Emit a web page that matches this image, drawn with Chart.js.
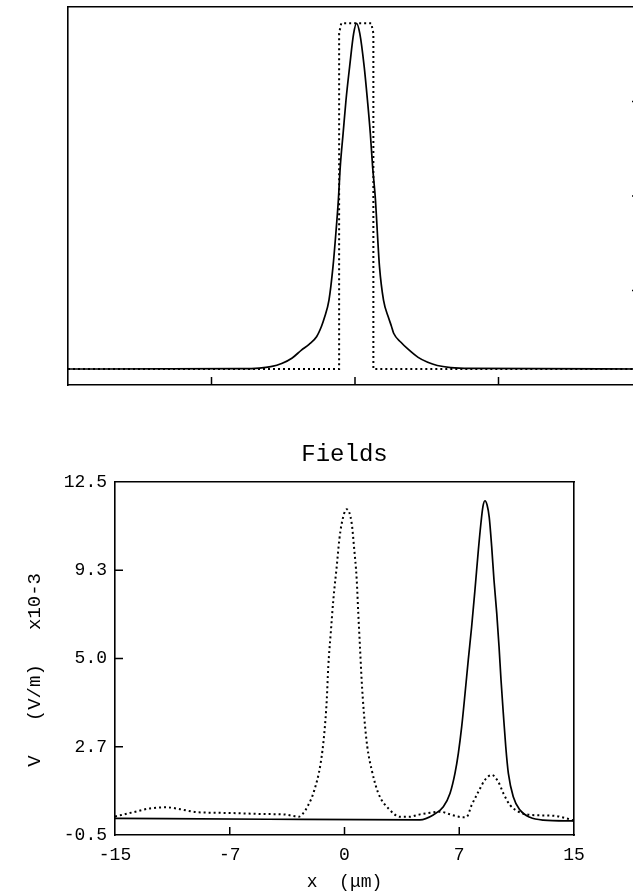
<!DOCTYPE html>
<html>
<head>
<meta charset="utf-8">
<script src="https://cdn.jsdelivr.net/npm/chart.js@4.4.1/dist/chart.umd.min.js"></script>
<style>
  html, body { margin: 0; padding: 0; background: #fff; width: 633px; height: 894px; overflow: hidden; }
  #topWrap { position: absolute; left: 0; top: 0; width: 700px; height: 400px; }
  #botWrap { position: absolute; left: 0; top: 440px; width: 633px; height: 454px; }
</style>
</head>
<body>
<div id="topWrap"><canvas id="topChart" width="700" height="400"></canvas></div>
<div id="botWrap"><canvas id="botChart" width="633" height="454"></canvas></div>
<script>
// ---------- data ----------
const xTickLabels = ["-15", "-7", "0", "7", "15"];
const yTickLabels = ["-0.5", "2.7", "5.0", "9.3", "12.5"];
const chartTitle = "Fields";
const xAxisTitle = "x  (\u03bcm)";
const yAxisTitle = "V   (V/m)   x10-3  ";

// top panel: solid profile and dotted (rectangular) profile
const topSolidX = [-15, -6, -5, -4.4, -3.8, -3.3, -2.8, -2.4, -2.0, -1.75, -1.6, -1.36, -1.15, -1.0, -0.87, -0.77, -0.62, -0.47, -0.28, -0.07, 0.08, 0.25, 0.48, 0.65, 0.8, 0.92, 1.07, 1.17, 1.28, 1.49, 1.75, 1.9, 2.02, 2.4, 2.76, 3.3, 3.8, 4.3, 5, 6, 15];
const topSolidY = [0.05, 0.06, 0.08, 0.13, 0.25, 0.42, 0.70, 0.90, 1.17, 1.52, 1.81, 2.42, 3.57, 4.72, 5.86, 7.01, 8.16, 9.30, 10.45, 11.59, 11.94, 11.59, 10.45, 9.30, 8.16, 7.01, 5.86, 4.72, 3.57, 2.42, 1.82, 1.53, 1.28, 0.97, 0.74, 0.45, 0.28, 0.17, 0.10, 0.07, 0.05];
const topDotX = [-15, -0.83, -0.83, -0.72, 0.85, 0.96, 0.96, 15];
const topDotY = [0.05, 0.05, 11.6, 11.94, 11.94, 11.6, 0.05, 0.05];

// bottom panel "Fields"
const botSolidX = [-15, -5, 4.93, 5.8, 6.46, 6.9, 7.22, 7.44, 7.66, 7.88, 8.09, 8.31, 8.53, 8.75, 8.92, 9.05, 9.18, 9.32, 9.46, 9.62, 9.77, 9.95, 10.1, 10.23, 10.38, 10.54, 10.71, 11.03, 11.47, 12.12, 12.99, 15];
const botSolidY = [0.11, 0.08, 0.06, 0.24, 0.54, 1.04, 1.77, 2.51, 3.49, 4.72, 5.95, 7.17, 8.55, 10.0, 11.0, 11.6, 11.81, 11.65, 11.2, 10.12, 8.89, 7.67, 6.44, 5.21, 3.98, 2.75, 1.77, 0.91, 0.42, 0.15, 0.05, 0.02];
const botDotX = [-15, -13.8, -12.71, -11.62, -10.75, -9.66, -8.35, -6.83, -5.08, -4.0, -3.35, -3.0, -2.7, -2.37, -2.0, -1.56, -1.32, -1.16, -1.06, -0.90, -0.73, -0.51, -0.34, -0.18, 0.14, 0.47, 0.62, 0.80, 0.90, 1.01, 1.12, 1.27, 1.49, 1.78, 2.21, 2.97, 3.63, 4.2, 4.93, 5.59, 6.24, 6.9, 7.4, 7.77, 7.99, 8.31, 8.75, 9.18, 9.62, 10.05, 10.38, 10.82, 11.36, 12.12, 13.65, 14.52, 14.96];
const botDotY = [0.18, 0.34, 0.48, 0.52, 0.45, 0.34, 0.32, 0.30, 0.27, 0.26, 0.20, 0.17, 0.30, 0.60, 1.10, 2.14, 3.25, 4.47, 5.70, 6.93, 8.16, 9.38, 10.37, 10.98, 11.5, 10.98, 10.12, 8.89, 7.67, 6.44, 5.21, 3.98, 2.75, 1.89, 1.04, 0.42, 0.17, 0.17, 0.26, 0.32, 0.36, 0.26, 0.18, 0.15, 0.17, 0.60, 1.09, 1.53, 1.71, 1.46, 1.04, 0.60, 0.36, 0.24, 0.21, 0.11, 0.03];

const X_MIN = -15, X_MAX = 15, X_STEP = 7.5;
const Y_MIN = -0.5, Y_MAX = 12.5, Y_STEP = 3.25;

// ---------- helpers ----------
const pts = (xs, ys) => xs.map((x, i) => ({ x: x, y: ys[i] }));
const FONT = "'Liberation Mono', 'DejaVu Sans Mono', monospace";
const INK = '#000';

const inwardTicks = {
  id: 'inwardTicks',
  afterDraw(chart, args, opts) {
    const { ctx, chartArea: a, scales } = chart;
    const len = opts.length || 8;
    const rlen = opts.rightLength || len;
    ctx.save();
    ctx.strokeStyle = INK;
    ctx.lineWidth = 1.5;
    ctx.beginPath();
    if (opts.bottom) {
      scales.x.ticks.slice(1, -1).forEach(t => {
        const px = scales.x.getPixelForValue(t.value);
        ctx.moveTo(px, a.bottom); ctx.lineTo(px, a.bottom - len);
      });
    }
    if (opts.left) {
      scales.y.ticks.slice(1, -1).forEach(t => {
        const py = scales.y.getPixelForValue(t.value);
        ctx.moveTo(a.left, py); ctx.lineTo(a.left + len, py);
      });
    }
    if (opts.right) {
      scales.y.ticks.slice(1, -1).forEach(t => {
        const py = scales.y.getPixelForValue(t.value);
        ctx.moveTo(a.right, py); ctx.lineTo(a.right - rlen, py);
      });
    }
    ctx.stroke();
    ctx.restore();
  }
};

const solidDS = (data) => ({
  data, showLine: true, borderColor: INK, borderWidth: 1.7,
  pointRadius: 0, cubicInterpolationMode: 'monotone', fill: false
});
const dotDS = (data, smooth) => ({
  data, showLine: true, borderColor: INK, borderWidth: 2, borderDash: [2, 3],
  pointRadius: 0, fill: false,
  cubicInterpolationMode: smooth ? 'monotone' : 'default', tension: 0
});
const borderOnly = (pos, extra) => Object.assign({
  type: 'linear', position: pos, display: true,
  grid: { display: false, drawTicks: false },
  border: { display: true, color: INK, width: 1.6 },
  ticks: { display: false }
}, extra || {});

// ---------- top panel ----------
new Chart(document.getElementById('topChart'), {
  type: 'scatter',
  data: { datasets: [ dotDS(pts(topDotX, topDotY), false), solidDS(pts(topSolidX, topSolidY)) ] },
  options: {
    responsive: false, animation: false, events: [],
    layout: { padding: { left: 68, top: 7, right: 58, bottom: 15 } },
    plugins: { legend: { display: false }, tooltip: { enabled: false }, title: { display: false },
      inwardTicks: { bottom: true, right: true, length: 8, rightLength: 10 } },
    scales: {
      x: borderOnly('bottom', { min: X_MIN, max: X_MAX, ticks: { display: false, stepSize: X_STEP }, afterFit: s => { s.height = 0; } }),
      y: borderOnly('left', { min: Y_MIN, max: Y_MAX, ticks: { display: false, stepSize: Y_STEP }, afterFit: s => { s.width = 0; } }),
      x2: borderOnly('top', { min: X_MIN, max: X_MAX, afterFit: s => { s.height = 0; } }),
      y2: borderOnly('right', { min: Y_MIN, max: Y_MAX, afterFit: s => { s.width = 0; } })
    }
  },
  plugins: [inwardTicks]
});

// ---------- bottom panel ----------
new Chart(document.getElementById('botChart'), {
  type: 'scatter',
  data: { datasets: [ dotDS(pts(botDotX, botDotY), true), solidDS(pts(botSolidX, botSolidY)) ] },
  options: {
    responsive: false, animation: false, events: [],
    layout: { padding: { left: 0, top: 0, right: 59, bottom: 0 } },
    plugins: {
      legend: { display: false }, tooltip: { enabled: false }, title: { display: false },
      inwardTicks: { bottom: true, left: true, length: 8 }
    },
    scales: {
      x: {
        type: 'linear', position: 'bottom', min: X_MIN, max: X_MAX,
        grid: { display: false, drawTicks: false },
        border: { display: true, color: INK, width: 1.6 },
        ticks: { stepSize: X_STEP, color: INK, padding: 9, maxRotation: 0, autoSkip: false,
          font: { family: FONT, size: 18 },
          callback: (v, i) => xTickLabels[i] },
        title: { display: true, text: xAxisTitle, color: INK, font: { family: FONT, size: 18 }, padding: { top: 0, bottom: 1 } },
        afterFit: s => { s.height = 59; }
      },
      y: {
        type: 'linear', position: 'left', min: Y_MIN, max: Y_MAX,
        grid: { display: false, drawTicks: false },
        border: { display: true, color: INK, width: 1.6 },
        ticks: { stepSize: Y_STEP, color: INK, padding: 8, autoSkip: false,
          font: { family: FONT, size: 18 },
          callback: (v, i) => yTickLabels[i] },
        title: { display: true, text: yAxisTitle, color: INK, font: { family: FONT, size: 19 }, padding: { top: 24, bottom: 0 } },
        afterFit: s => { s.width = 115; }
      },
      x2: borderOnly('top', { min: X_MIN, max: X_MAX,
        title: { display: true, text: chartTitle, color: INK, font: { family: FONT, size: 24 }, padding: { top: 0, bottom: 0 } },
        afterFit: s => { s.height = 42; } }),
      y2: borderOnly('right', { min: Y_MIN, max: Y_MAX, afterFit: s => { s.width = 0; } })
    }
  },
  plugins: [inwardTicks]
});
</script>
</body>
</html>
